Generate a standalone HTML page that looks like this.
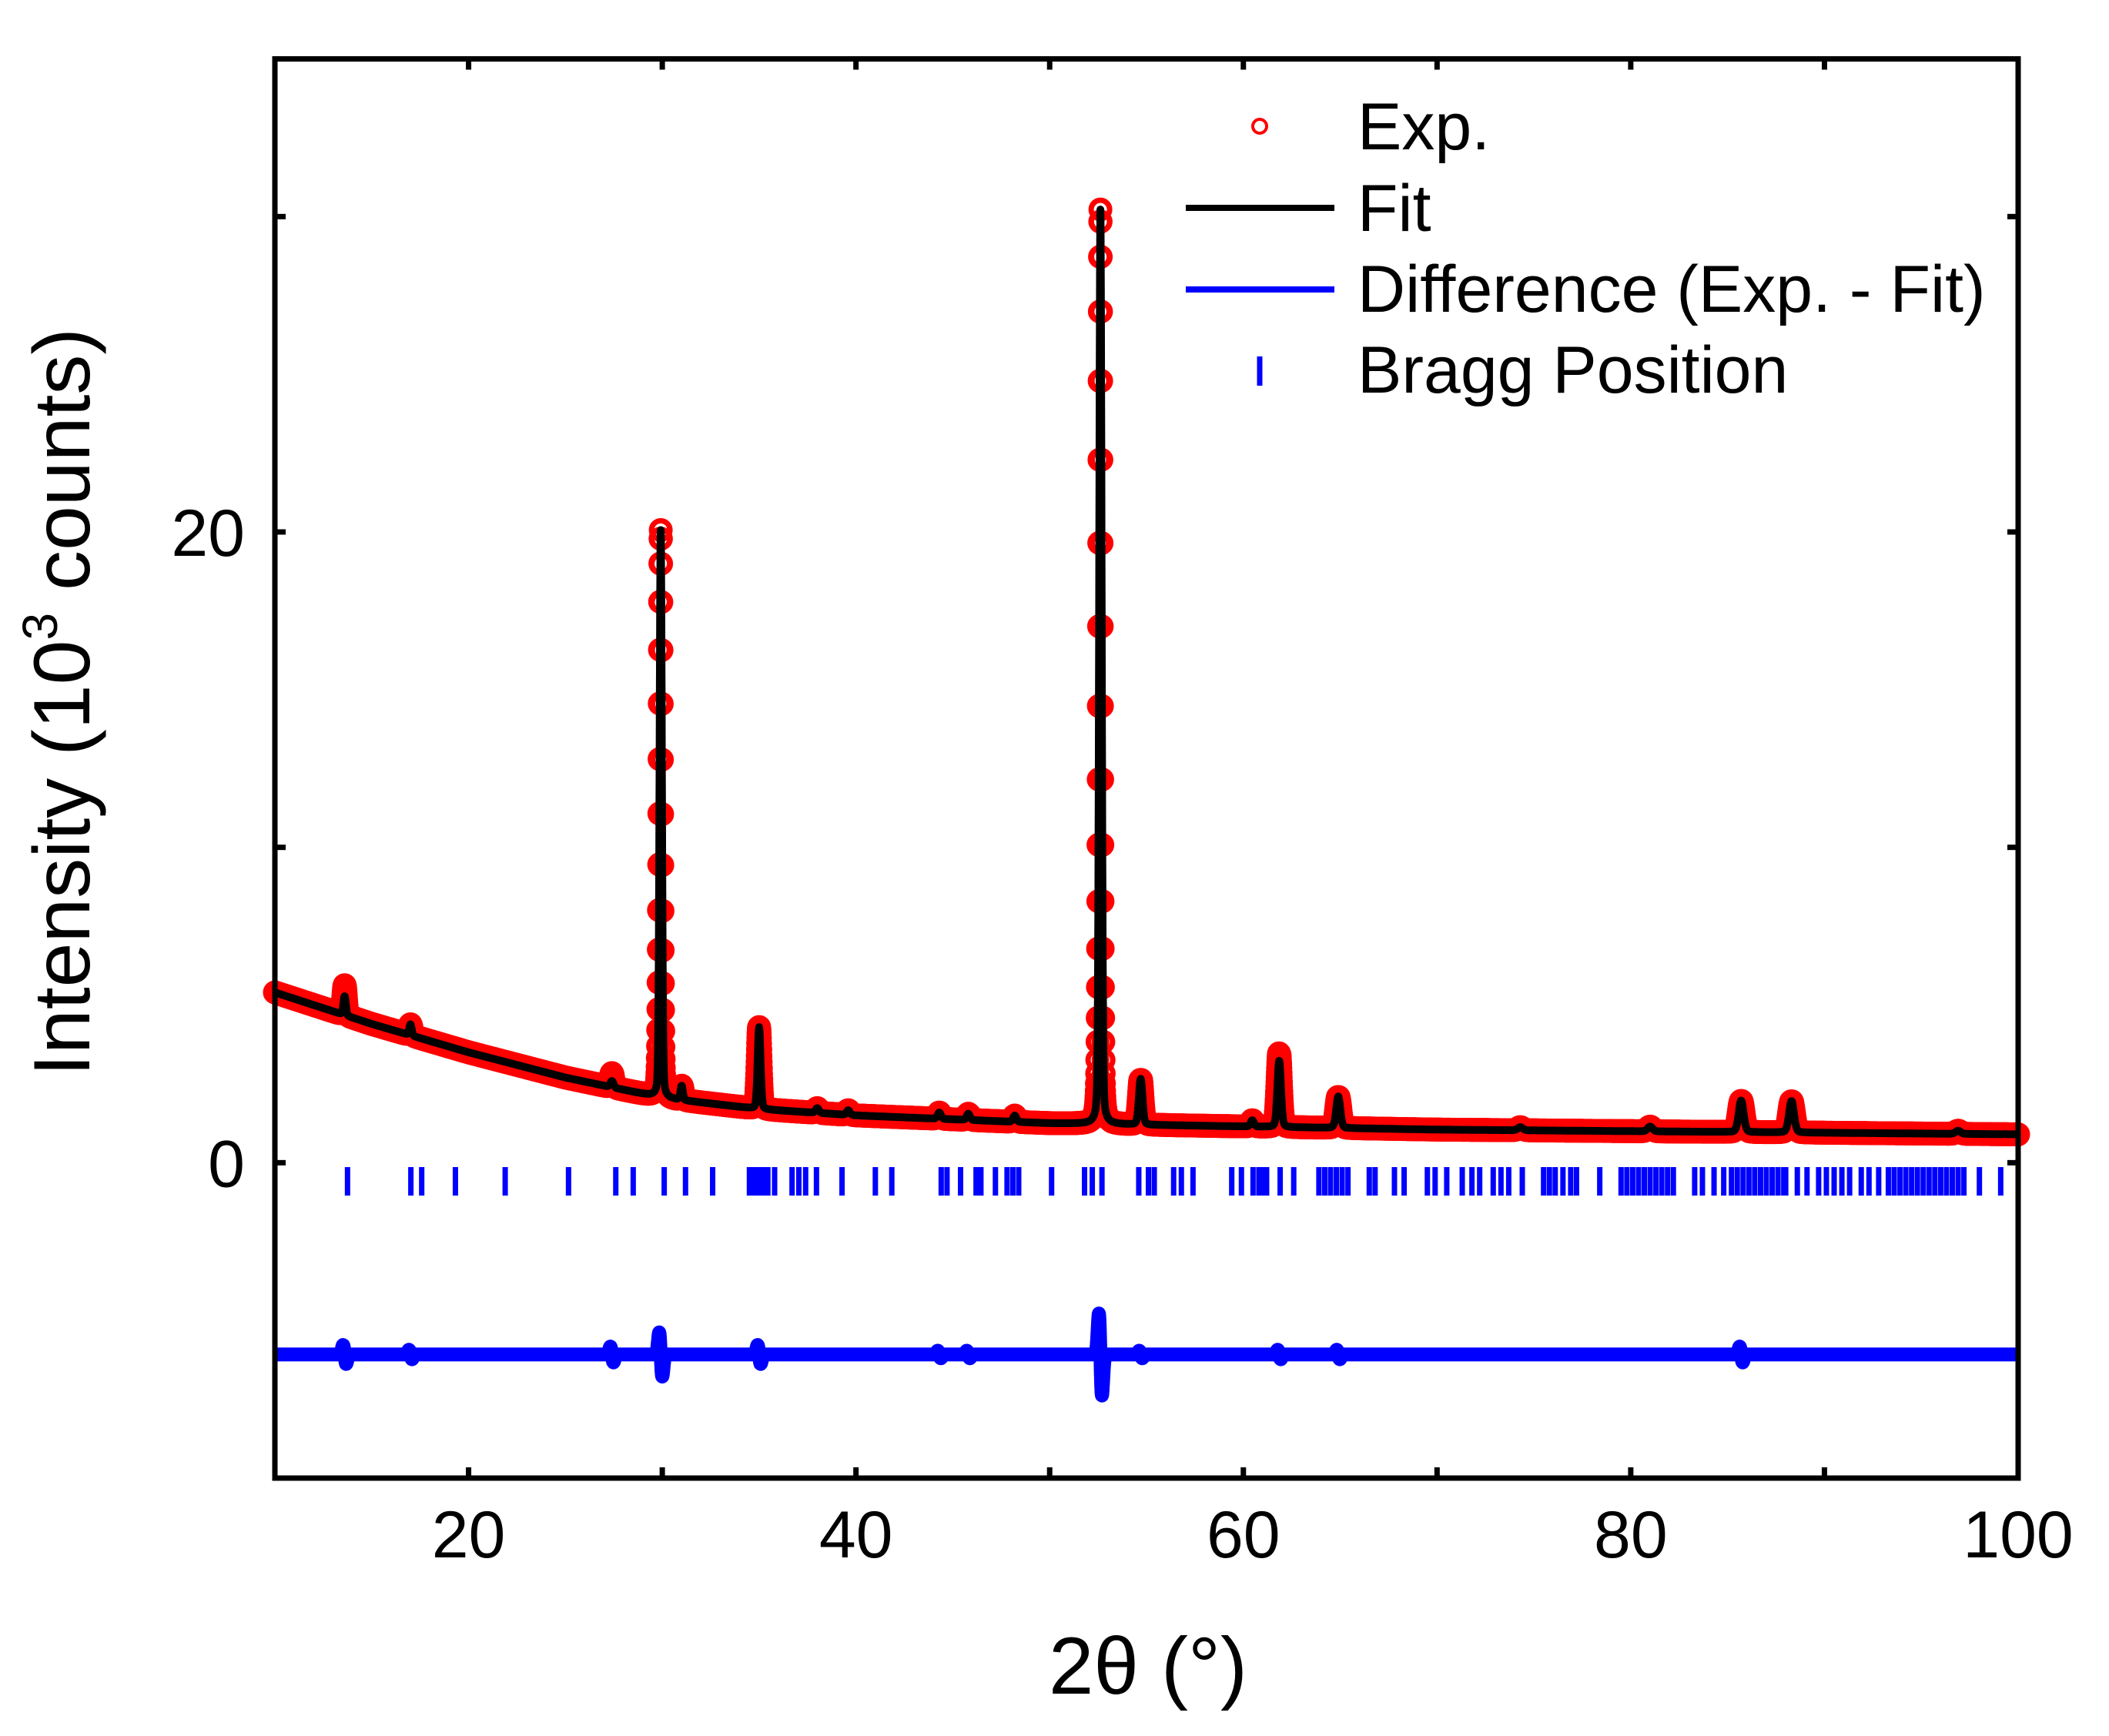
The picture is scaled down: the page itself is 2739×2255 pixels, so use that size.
<!DOCTYPE html>
<html><head><meta charset="utf-8"><style>
html,body{margin:0;padding:0;background:#fff;}
svg{display:block;font-family:"Liberation Sans",Arial,sans-serif;}
</style></head><body>
<svg id="chart" width="2739" height="2255" viewBox="0 0 2739 2255" xmlns="http://www.w3.org/2000/svg">
<rect width="2739" height="2255" fill="#fff"/>
<g id="plot"></g>
<g id="axes"></g>
<g id="legend">
  <circle cx="1636" cy="164" r="9" fill="none" stroke="#ff0000" stroke-width="4"/>
  <text x="1763" y="194" font-size="86">Exp.</text>
  <line x1="1540" y1="270" x2="1733" y2="270" stroke="#000" stroke-width="8"/>
  <text x="1763" y="300" font-size="86">Fit</text>
  <line x1="1540" y1="376" x2="1733" y2="376" stroke="#0000ff" stroke-width="8"/>
  <text x="1763" y="405" font-size="86">Difference (Exp. - Fit)</text>
  <line x1="1636" y1="463" x2="1636" y2="501" stroke="#0000ff" stroke-width="7"/>
  <text x="1763" y="510" font-size="86">Bragg Position</text>
</g>
<text x="1491" y="2200" font-size="105" text-anchor="middle">2θ (°)</text>
<text transform="translate(116,912) rotate(-90)" font-size="104" text-anchor="middle">Intensity (10<tspan font-size="64" dy="-42">3</tspan><tspan dy="42"> counts)</tspan></text>
</svg>
<script>
// ---- data ----
const bgX = [10,15,20,25,30,35,40,50,60,70,80,90,100];
const bgY = [5.4,4.4,3.5,2.7,2.05,1.7,1.5,1.25,1.15,1.05,1.0,0.95,0.9];
const peakPos = [13.6,17.0,27.4,29.92,31.0,35.0,38.0,39.6,44.3,45.8,48.2,52.62,54.7,60.46,61.85,64.9,74.3,81.0,85.7,88.3,96.9];
const peakHeight = [0.6,0.35,0.2,18.0,0.45,2.6,0.15,0.15,0.2,0.2,0.2,29.0,1.45,0.2,2.1,1.0,0.1,0.15,1.0,1.0,0.1];
const peakWidth = [0.15,0.15,0.2,0.14,0.15,0.18,0.2,0.2,0.2,0.2,0.2,0.15,0.22,0.2,0.22,0.25,0.3,0.3,0.3,0.3,0.3];
const expExtraPos = [13.6,27.4,61.85];
const expExtraHeight = [0.35,0.25,0.25];
const diffBase = -6.08;
const diffPos = [13.6,17.0,27.4,29.92,35.0,44.3,45.8,52.62,54.7,61.85,64.9,85.7];
const diffAmp = [0.3,0.15,0.25,0.7,0.3,0.12,0.12,1.3,0.12,0.15,0.15,0.25];
const braggPos = [13.75,17.02,17.58,19.32,21.89,25.16,27.6,28.5,30.1,31.2,32.6,34.5,34.7,34.9,35.1,35.3,35.45,35.8,36.7,37.05,37.4,37.96,39.28,41.0,41.85,44.4,44.7,45.4,46.2,46.45,47.2,47.8,48.1,48.4,50.1,51.8,52.2,52.7,54.6,55.1,55.4,56.4,56.8,57.4,59.4,59.9,60.5,60.8,61.0,61.2,61.9,62.6,63.9,64.2,64.5,64.8,65.1,65.4,66.5,66.8,67.8,68.3,69.5,69.9,70.5,71.3,71.8,72.2,72.9,73.3,73.7,74.4,75.5,75.8,76.1,76.5,76.9,77.2,78.4,79.5,79.8,80.1,80.4,80.7,81.0,81.3,81.6,81.9,82.2,83.3,83.7,84.3,84.8,85.2,85.5,85.8,86.1,86.4,86.7,87.0,87.3,87.6,87.9,88.0,88.6,89.1,89.7,90.1,90.5,90.9,91.3,91.9,92.3,92.8,93.3,93.6,93.9,94.2,94.5,94.8,95.1,95.4,95.7,96.0,96.3,96.6,96.9,97.2,98.0,99.1];
const xTicks = [20,30,40,50,60,70,80,90];
const xTickLabels = ["20","","40","","60","","80","","100"];
const xLabelVals = [20,30,40,50,60,70,80,90,100];
const yTicks = [0,10,20,30];
const yTickLabels = ["0","","20",""];

// ---- axes ----
const X0=357,X1=2621,Y0=76.5,Y1=1920, xmin=10,xmax=100,ymin=-10,ymax=35;
const sx = v => X0 + (v-xmin)/(xmax-xmin)*(X1-X0);
const sy = v => Y1 - (v-ymin)/(ymax-ymin)*(Y1-Y0);
const NS="http://www.w3.org/2000/svg";
function mk(tag, attrs, parent){const e=document.createElementNS(NS,tag);for(const k in attrs)e.setAttribute(k,attrs[k]);parent.appendChild(e);return e;}
function bg(x){for(let i=0;i<bgX.length-1;i++){if(x<=bgX[i+1]){const t=(x-bgX[i])/(bgX[i+1]-bgX[i]);return bgY[i]+t*(bgY[i+1]-bgY[i]);}}return bgY[bgY.length-1];}
function prof(x,pos,h,w){let y=0;for(let i=0;i<pos.length;i++){const d=x-pos[i];y+=h[i]*(0.8*Math.exp(-d*d/(2*(w[i]/2.3548)**2))+0.2/(1+(2*d/w[i])**2));}return y;}
function fit(x){return bg(x)+prof(x,peakPos,peakHeight,peakWidth);}
function expv(x){let e=0;for(let i=0;i<expExtraPos.length;i++){const d=x-expExtraPos[i];e+=expExtraHeight[i]*Math.exp(-d*d/(2*0.07*0.07));}return fit(x)+e;}
function diff(x){let y=diffBase;for(let i=0;i<diffPos.length;i++){const d=(x-diffPos[i])/0.08;y+=diffAmp[i]*(-d)*Math.exp(0.5-d*d/2);}return y;}

const plot=document.getElementById('plot');
// exp circles
const gExp=mk('g',{fill:'none',stroke:'#ff0000','stroke-width':7},plot);


let lastY=null;
for(let x=10;x<=100.001;x+=0.01){
  const yy=sy(expv(x));
  if(lastY!==null && Math.abs(yy-lastY)<1.5 && Math.round(x*100)%4!==0) continue;
  mk('circle',{cx:sx(x).toFixed(1),cy:yy.toFixed(1),r:12},gExp);
  lastY=yy;
}
// fit line
let d='';
for(let x=10;x<=100.0001;x+=0.01){d+=(d?'L':'M')+sx(x).toFixed(1)+','+sy(fit(x)).toFixed(1);}
const fitPath=mk('path',{d:d,fill:'none',stroke:'#000','stroke-width':10,'stroke-linejoin':'round'},plot);


// bragg ticks
const gB=mk('g',{stroke:'#0000ff','stroke-width':7},plot);


braggPos.forEach(p=>{const l=mk('line',{x1:sx(p),x2:sx(p),y1:1516,y2:1553},gB);

});
// difference
let dd='';
for(let x=10;x<=100.0001;x+=0.01){dd+=(dd?'L':'M')+sx(x).toFixed(1)+','+sy(diff(x)).toFixed(1);}
const dp=mk('path',{d:dd,fill:'none',stroke:'#0000ff','stroke-width':18,'stroke-linejoin':'round'},plot);



// axes frame
const ax=document.getElementById('axes');
const fr=mk('rect',{x:X0,y:Y0,width:X1-X0,height:Y1-Y0,fill:'none',stroke:'#000','stroke-width':7},ax);


xTicks.forEach(v=>{
  const t1=mk('line',{x1:sx(v),x2:sx(v),y1:Y1,y2:Y1-14,stroke:'#000','stroke-width':7},ax);
  
  
  const t2=mk('line',{x1:sx(v),x2:sx(v),y1:Y0,y2:Y0+14,stroke:'#000','stroke-width':7},ax);
  
  
});
xLabelVals.forEach((v,i)=>{ if(!xTickLabels[i])return;
  const t=mk('text',{x:sx(v),y:2023,'font-size':86,'text-anchor':'middle'},ax);t.textContent=xTickLabels[i];
  
  
});
yTicks.forEach((v,i)=>{
  const t1=mk('line',{x1:X0,x2:X0+14,y1:sy(v),y2:sy(v),stroke:'#000','stroke-width':7},ax);
  
  
  const t2=mk('line',{x1:X1,x2:X1-14,y1:sy(v),y2:sy(v),stroke:'#000','stroke-width':7},ax);
  
  
  if(yTickLabels[i]){const t=mk('text',{x:318,y:sy(v)+31,'font-size':86,'text-anchor':'end'},ax);t.textContent=yTickLabels[i];
  
  }
});
</script>
</body></html>
